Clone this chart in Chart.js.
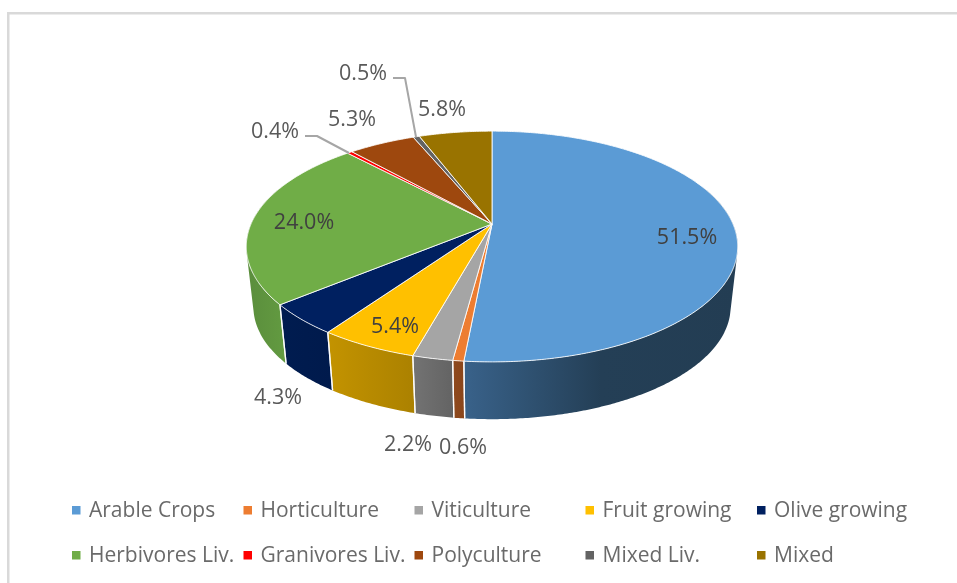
<!DOCTYPE html>
<html>
<head>
<meta charset="utf-8">
<script src="https://cdn.jsdelivr.net/npm/chart.js@4"></script>
<style>
html,body{margin:0;padding:0;background:#fff;overflow:hidden}
canvas{display:block;filter:blur(0.4px)}
</style>
</head>
<body>
<canvas id="c" width="957" height="583"></canvas>
<script>
const categories = ['Arable Crops','Horticulture','Viticulture','Fruit growing','Olive growing','Herbivores Liv.','Granivores Liv.','Polyculture','Mixed Liv.','Mixed'];
const shares = [51.5,0.6,2.2,5.4,4.3,24.0,0.4,5.3,0.5,5.8];
const topColors = ['#5b9bd5','#ed7d31','#a5a5a5','#ffc000','#002060','#70ad47','#ff0000','#9e480e','#636363','#997300'];
const wallColors = [
  ['#39628a','#243f56','#233d53'],['#8f4a1e','#8a451a'],['#737373','#636363'],['#c39300','#ab8100'],
  ['#001c50','#001a4c'],['#5a8d3c','#639b41'],['#b00000','#b00000'],['#7a370b','#7a370b'],['#4a4a4a','#4a4a4a'],['#705400','#705400']
];
const labelLayout = [[687,238],[463,448],[408,445],[395,327],[278,398],[304,223],[275,132],[352,120],[363,74],[442,110]];
const leaders = {6:[[305,136],[317,136],[349,153]],8:[[393,78],[405,78],[416,137]]};
const legendCols = [72,243.5,414.5,585.5,757];
const legendRows = [510.5,555.5];

const TOP = {cx:492,cy:224,R:241,k:111,p:0.195};
const BOT = {cx:492,cy:285,R:234,k:108,p:0.195};
function proj(P,th){
  const u=Math.sin(th),v=-Math.cos(th),w=1-P.p*v;
  return [P.cx+P.R*u/w,P.cy+P.k*v/w];
}
function arcPts(P,a,b){
  const n=Math.max(2,Math.ceil(Math.abs(b-a)/(Math.PI/360))),pts=[];
  for(let i=0;i<=n;i++)pts.push(proj(P,a+(b-a)*i/n));
  return pts;
}
function addPoly(ctx,pts){
  pts.forEach((p,i)=>i?ctx.lineTo(p[0],p[1]):ctx.moveTo(p[0],p[1]));
  ctx.closePath();
}
function poly(ctx,pts){ctx.beginPath();addPoly(ctx,pts);}
function area(pts){
  let s=0;
  pts.forEach((p,i)=>{const q=pts[(i+1)%pts.length];s+=p[0]*q[1]-q[0]*p[1];});
  return s;
}
const WALL_A=70*Math.PI/180, WALL_B=290*Math.PI/180;

const pie3d = {
  id:'pie3d',
  beforeDatasetDraw(){return false;},
  afterDraw(chart){
    const ctx=chart.ctx, arcs=chart.getDatasetMeta(0).data;
    const ang=arcs.map(e=>[e.startAngle+Math.PI/2,e.endAngle+Math.PI/2]);
    ctx.save();
    // frame
    ctx.fillStyle='#d9d9d9';
    ctx.fillRect(7,12,950,2.5);
    ctx.fillRect(7,12,2.5,571);
    // walls
    ctx.lineJoin='round';
    ang.forEach((a,i)=>{
      const s=Math.max(a[0],WALL_A),e=Math.min(a[1],WALL_B);
      if(e<=s)return;
      const t=arcPts(TOP,s,e),b=arcPts(BOT,s,e);
      const xs=t.concat(b).map(p=>p[0]),x0=Math.min(...xs),x1=Math.max(...xs);
      const g=ctx.createLinearGradient(x0,0,x1,0),st=wallColors[i];
      st.forEach((c,j)=>g.addColorStop(j/(st.length-1),c));
      ctx.fillStyle=g;
      ctx.beginPath();
      for(let j=0;j<t.length-1;j++){
        const q=[t[j],t[j+1],b[j+1],b[j]];
        addPoly(ctx,area(q)<0?q.reverse():q);
      }
      ctx.fill();
    });
    // wall separators
    ctx.strokeStyle='rgba(255,255,255,0.9)';ctx.lineWidth=1.3;
    ang.forEach(a=>{
      [a[0],a[1]].forEach(th=>{
        if(th<WALL_A||th>WALL_B)return;
        const p=proj(TOP,th),q=proj(BOT,th);
        ctx.beginPath();ctx.moveTo(p[0],p[1]);ctx.lineTo(q[0],q[1]);ctx.stroke();
      });
    });
    // top face
    ang.forEach((a,i)=>{
      const pts=[[TOP.cx,TOP.cy]].concat(arcPts(TOP,a[0],a[1]));
      poly(ctx,pts);
      ctx.fillStyle=topColors[i];ctx.fill();
      ctx.strokeStyle='rgba(255,255,255,0.85)';ctx.lineWidth=1;ctx.stroke();
    });
    // leader lines
    ctx.strokeStyle='#a6a6a6';ctx.lineWidth=2;
    Object.keys(leaders).forEach(k=>{
      ctx.beginPath();
      leaders[k].forEach((p,i)=>i?ctx.lineTo(p[0],p[1]):ctx.moveTo(p[0],p[1]));
      ctx.stroke();
    });
    // value labels
    ctx.font='21.5px "Open Sans"';
    ctx.textAlign='center';ctx.textBaseline='middle';
    shares.forEach((v,i)=>{
      ctx.fillStyle=(i===0||i===3||i===5)?'#404040':'#595959';
      ctx.fillText(v.toFixed(1)+'%',labelLayout[i][0],labelLayout[i][1]);
    });
    // legend
    ctx.font='21px "Open Sans"';
    ctx.textAlign='left';
    categories.forEach((name,i)=>{
      const x=legendCols[i%5],y=legendRows[Math.floor(i/5)];
      ctx.fillStyle=topColors[i];
      ctx.fillRect(x,y-4.5,8.5,8.5);
      ctx.fillStyle='#6a6a6a';
      ctx.fillText(name,x+17,y+0.5);
    });
    ctx.restore();
  }
};

new Chart(document.getElementById('c'),{
  type:'pie',
  data:{labels:categories,datasets:[{data:shares,backgroundColor:topColors,borderWidth:0}]},
  options:{
    responsive:false,animation:false,
    plugins:{legend:{display:false},tooltip:{enabled:false}}
  },
  plugins:[pie3d]
});
</script>
</body>
</html>
